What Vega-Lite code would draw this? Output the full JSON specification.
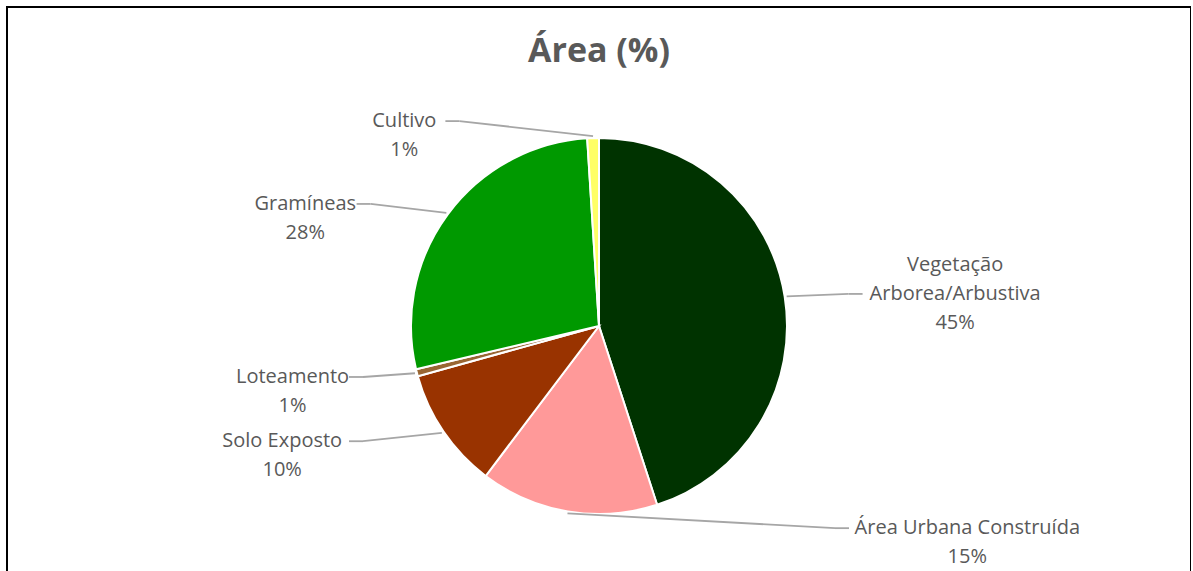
{
  "$schema": "https://vega.github.io/schema/vega-lite/v6.json",
  "width": 1184,
  "height": 638,
  "autosize": "none",
  "padding": {"left": 7, "top": 7, "right": 0, "bottom": 0},
  "background": "white",
  "title": {"text": "Área (%)", "font": "Open Sans", "fontSize": 34, "fontWeight": "bold", "color": "#595959", "anchor": "middle", "frame": "group", "orient": "top", "baseline": "alphabetic", "offset": -89},
  "config": {"view": {"stroke": "#000000", "strokeWidth": 2}},
  "data": {"values": [
    {"category": "Vegetação Arborea/Arbustiva", "value": 0.450},
    {"category": "Área Urbana Construída", "value": 0.153},
    {"category": "Solo Exposto", "value": 0.104},
    {"category": "Loteamento", "value": 0.006},
    {"category": "Gramíneas", "value": 0.277},
    {"category": "Cultivo", "value": 0.010}
  ]},
  "transform": [
    {"window": [{"op": "sum", "field": "value", "as": "cum"}], "frame": [null, 0]},
    {"calculate": "datum.cum - datum.value", "as": "start"},
    {"calculate": "(datum.cum - datum.value / 2) * 2 * PI", "as": "a"},
    {"calculate": "sin(datum.a - 0.2) >= 0 ? 1 : -1", "as": "side"},
    {"calculate": "190 * sin(datum.a)", "as": "ex"},
    {"calculate": "190 * cos(datum.a)", "as": "ey"},
    {"calculate": "205 * cos(datum.a)", "as": "ly"},
    {"calculate": "datum.side * (cos(datum.a) > 0 ? 150 + 115 * abs(sin(datum.a)) : 250)", "as": "hx"},
    {"calculate": "datum.hx - datum.side * 14", "as": "bx"},
    {"calculate": "replace(datum.category, ' Arborea', '\\nArborea')", "as": "name"},
    {"calculate": "split(datum.name, '\\n')", "as": "parts"},
    {"calculate": "datum.name + '\\n' + format(datum.value, '.0%')", "as": "label"},
    {"calculate": "10.3 * max(length(datum.parts[0]), length(datum.parts) > 1 ? length(datum.parts[1]) : 0)", "as": "w"},
    {"calculate": "datum.hx + datum.side * (5 + datum.w / 2)", "as": "tx"},
    {"calculate": "length(datum.parts) > 1 ? datum.ly + 29 : datum.ly", "as": "ty"}
  ],
  "layer": [
    {
      "mark": {"type": "arc", "radius": 188, "stroke": "white", "strokeWidth": 2},
      "encoding": {
        "theta": {"field": "start", "type": "quantitative", "stack": null, "scale": {"domain": [0, 1], "range": [0, 6.283185307179586]}},
        "theta2": {"field": "cum"},
        "color": {"field": "category", "type": "nominal", "legend": null,
          "scale": {"domain": ["Vegetação Arborea/Arbustiva", "Área Urbana Construída", "Solo Exposto", "Loteamento", "Gramíneas", "Cultivo"],
                    "range": ["#003300", "#FF9999", "#993300", "#996633", "#009900", "#FFFF66"]}}
      }
    },
    {
      "mark": {"type": "rule", "color": "#A6A6A6", "strokeWidth": 1.8},
      "encoding": {
        "x": {"field": "ex", "type": "quantitative", "axis": null, "scale": {"domain": [-592, 592], "nice": false, "zero": false}},
        "y": {"field": "ey", "type": "quantitative", "axis": null, "scale": {"domain": [-319, 319], "nice": false, "zero": false}},
        "x2": {"field": "bx"},
        "y2": {"field": "ly"}
      }
    },
    {
      "mark": {"type": "rule", "color": "#A6A6A6", "strokeWidth": 1.8},
      "encoding": {
        "x": {"field": "bx", "type": "quantitative", "axis": null, "scale": {"domain": [-592, 592], "nice": false, "zero": false}},
        "y": {"field": "ly", "type": "quantitative", "axis": null, "scale": {"domain": [-319, 319], "nice": false, "zero": false}},
        "x2": {"field": "hx"}
      }
    },
    {
      "mark": {"type": "text", "font": "Open Sans", "fontSize": 20, "color": "#595959", "align": "center", "baseline": "middle", "lineBreak": "\n", "lineHeight": 29},
      "encoding": {
        "x": {"field": "tx", "type": "quantitative", "axis": null, "scale": {"domain": [-592, 592], "nice": false, "zero": false}},
        "y": {"field": "ty", "type": "quantitative", "axis": null, "scale": {"domain": [-319, 319], "nice": false, "zero": false}},
        "text": {"field": "label", "type": "nominal"}
      }
    }
  ]
}
